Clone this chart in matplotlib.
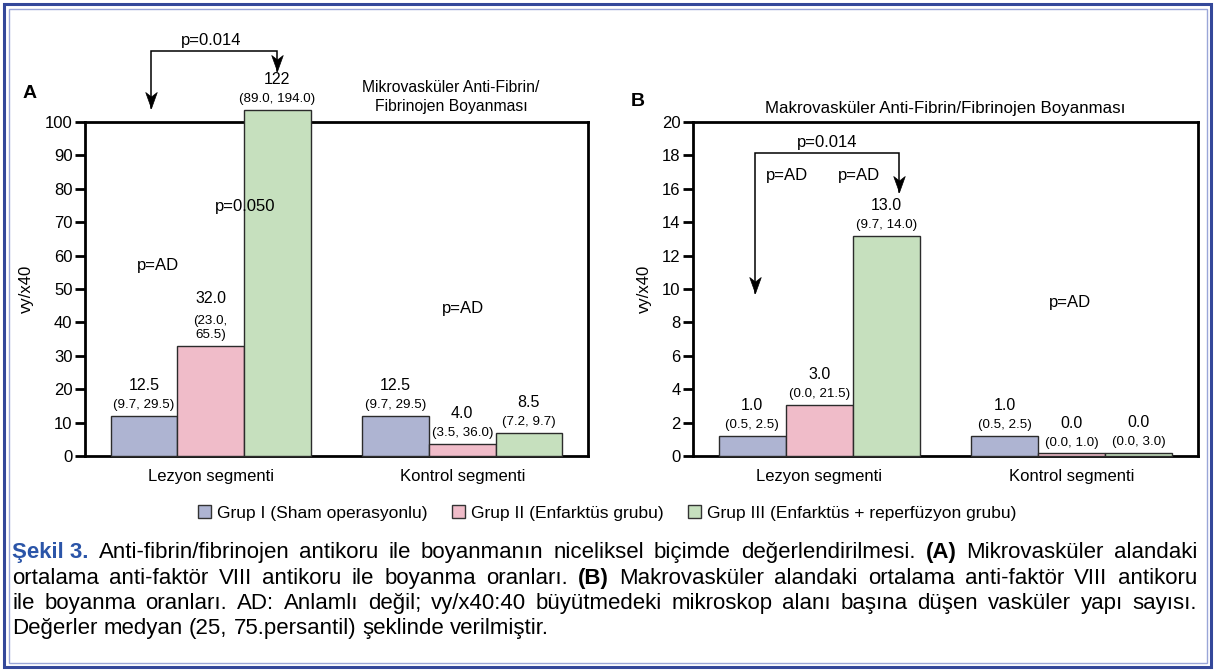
import numpy as np
import matplotlib.pyplot as plt
from matplotlib.patches import Rectangle, Patch
from matplotlib.path import Path

plt.rcParams['font.family'] = ['Liberation Sans', 'DejaVu Sans']

# ── Data ───────────────────────────────────────────────────────────────────
segments = ["Lezyon segmenti", "Kontrol segmenti"]
group_names = ["Grup I (Sham operasyonlu)", "Grup II (Enfarktüs grubu)",
               "Grup III (Enfarktüs + reperfüzyon grubu)"]
colors = ['#aeb4d2', '#f0bcc9', '#c6e0be']

# bar heights as drawn (vy/x40); group III lesion bar in A is cut near the top
mikro_g1 = [12.0, 12.0]
mikro_g2 = [33.0, 3.6]
mikro_g3 = [103.5, 6.9]
makro_g1 = [1.2, 1.2]
makro_g2 = [3.05, 0.15]
makro_g3 = [13.2, 0.2]

# median labels and (25, 75 percentile) labels
mikro_med = [["12.5", "12.5"], ["32.0", "4.0"], ["122", "8.5"]]
mikro_iqr = [["(9.7, 29.5)", "(9.7, 29.5)"], ["(23.0,\n65.5)", "(3.5, 36.0)"],
             ["(89.0, 194.0)", "(7.2, 9.7)"]]
makro_med = [["1.0", "1.0"], ["3.0", "0.0"], ["13.0", "0.0"]]
makro_iqr = [["(0.5, 2.5)", "(0.5, 2.5)"], ["(0.0, 21.5)", "(0.0, 1.0)"],
             ["(9.7, 14.0)", "(0.0, 3.0)"]]

caption = [
    [("Şekil 3.", 'h'), ("Anti-fibrin/fibrinojen", 'n'), ("antikoru", 'n'), ("ile", 'n'),
     ("boyanmanın", 'n'), ("niceliksel", 'n'), ("biçimde", 'n'), ("değerlendirilmesi.", 'n'),
     ("(A)", 'b'), ("Mikrovasküler", 'n'), ("alandaki", 'n')],
    [("ortalama", 'n'), ("anti-faktör", 'n'), ("VIII", 'n'), ("antikoru", 'n'), ("ile", 'n'),
     ("boyanma", 'n'), ("oranları.", 'n'), ("(B)", 'b'), ("Makrovasküler", 'n'), ("alandaki", 'n'),
     ("ortalama", 'n'), ("anti-faktör", 'n'), ("VIII", 'n'), ("antikoru", 'n')],
    [("ile", 'n'), ("boyanma", 'n'), ("oranları.", 'n'), ("AD:", 'n'), ("Anlamlı", 'n'),
     ("değil;", 'n'), ("vy/x40:40", 'n'), ("büyütmedeki", 'n'), ("mikroskop", 'n'), ("alanı", 'n'),
     ("başına", 'n'), ("düşen", 'n'), ("vasküler", 'n'), ("yapı", 'n'), ("sayısı.", 'n')],
    [("Değerler", 'n'), ("medyan", 'n'), ("(25,", 'n'), ("75.persantil)", 'n'), ("şeklinde", 'n'),
     ("verilmiştir.", 'n')],
]

# ── Figure ─────────────────────────────────────────────────────────────────
W, H = 1215, 671
fig = plt.figure(figsize=(W / 100, H / 100), dpi=100)
fig.patch.set_facecolor('white')

axA = fig.add_axes([85 / W, 1 - 456 / H, 503 / W, 334 / H])
axB = fig.add_axes([693 / W, 1 - 456 / H, 505 / W, 334 / H])

x = np.arange(len(segments))
bw = 0.265
offs = [-bw, 0, bw]


def draw_bars(ax, series, meds, iqrs):
    for g, vals in enumerate(series):
        bars = ax.bar(x + offs[g], vals, bw, color=colors[g], edgecolor='#2b2b2b',
                      lw=1.0, zorder=3, clip_on=False)
        for b, med, iqr in zip(bars, meds[g], iqrs[g]):
            cx = b.get_x() + b.get_width() / 2
            top = b.get_height()
            n = iqr.count('\n') + 1
            ax.annotate(iqr, (cx, top), xytext=(0, 3.5), textcoords='offset points',
                        ha='center', va='bottom', fontsize=9.6, linespacing=1.2,
                        annotation_clip=False)
            ax.annotate(med, (cx, top), xytext=(0, 4 + 12.5 * n), textcoords='offset points',
                        ha='center', va='bottom', fontsize=11.5, annotation_clip=False)


draw_bars(axA, [mikro_g1, mikro_g2, mikro_g3], mikro_med, mikro_iqr)
draw_bars(axB, [makro_g1, makro_g2, makro_g3], makro_med, makro_iqr)

for ax, top, step, lx in [(axA, 100, 10, -0.101), (axB, 20, 2, -0.081)]:
    ax.set_xlim(-0.5, 1.5)
    ax.set_ylim(0, top)
    ax.set_yticks(np.arange(0, top + 1, step))
    ax.set_xticks(x)
    ax.set_xticklabels(segments)
    for s in ax.spines.values():
        s.set_linewidth(2.0)
    ax.tick_params(axis='y', length=7, width=2.0, labelsize=12, pad=2)
    ax.tick_params(axis='x', length=0, labelsize=12, pad=9)
    ax.set_ylabel("vy/x40", fontsize=12)
    ax.yaxis.set_label_coords(lx, 0.5)

# notched arrow head, tip at the marker position
head = Path([(0, 0), (-0.36, 1.0), (0, 0.72), (0.36, 1.0), (0, 0)],
            [Path.MOVETO, Path.LINETO, Path.LINETO, Path.LINETO, Path.CLOSEPOLY])


def bracket(ax, x0, x1, y, tip0, tip1):
    ax.plot([x0, x0, x1, x1], [tip0, y, y, tip1], color='k', lw=1.1, clip_on=False,
            solid_joinstyle='miter')
    ax.plot([x0, x1], [tip0, tip1], ls='none', marker=head, markersize=23,
            color='k', mec='k', mew=0.5, clip_on=False)


# Panel A annotations
bracket(axA, -0.238, 0.263, 121.3, 104.2, 115.2)
axA.text(0.0, 124.5, "p=0.014", ha='center', va='center', fontsize=12)
axA.text(0.136, 74.6, "p=0.050", ha='center', va='center', fontsize=12)
axA.text(-0.21, 56.9, "p=AD", ha='center', va='center', fontsize=12)
axA.text(1.003, 44.3, "p=AD", ha='center', va='center', fontsize=12)
fig.text(451 / W, 1 - 97 / H, "Mikrovasküler Anti-Fibrin/\nFibrinojen Boyanması",
         ha='center', va='center', fontsize=11.3, linespacing=1.3)
fig.text(30 / W, 1 - 94 / H, "A", ha='center', va='center', fontsize=14, fontweight='bold')

# Panel B annotations
bracket(axB, -0.254, 0.316, 18.14, 9.76, 15.8)
axB.text(0.031, 18.8, "p=0.014", ha='center', va='center', fontsize=12)
axB.text(-0.128, 16.8, "p=AD", ha='center', va='center', fontsize=12)
axB.text(0.157, 16.8, "p=AD", ha='center', va='center', fontsize=12)
axB.text(0.993, 9.22, "p=AD", ha='center', va='center', fontsize=12)
axB.set_title("Makrovasküler Anti-Fibrin/Fibrinojen Boyanması", fontsize=12.2, pad=6.5)
fig.text(638 / W, 1 - 101 / H, "B", ha='center', va='center', fontsize=14, fontweight='bold')

# Legend
handles = [Patch(facecolor=c, edgecolor='#333333', lw=1.0, label=n)
           for c, n in zip(colors, group_names)]
fig.legend(handles=handles, loc='center', bbox_to_anchor=(0.5, 1 - 513 / H), ncol=3,
           frameon=False, fontsize=12.5, handlelength=0.75, handleheight=0.7,
           handletextpad=0.35, columnspacing=1.4, borderpad=0, borderaxespad=0)

# Caption, justified word by word
styles = {'n': dict(color='black'), 'b': dict(color='black', fontweight='bold'),
          'h': dict(color='#2b55a8', fontweight='bold')}
cap_size = 16
renderer = fig.canvas.get_renderer()
x_left, x_right = 12, 1197
baselines = [558, 584, 609, 634]
for i, (line, yb) in enumerate(zip(caption, baselines)):
    texts = [fig.text(0, 1 - yb / H, w, fontsize=cap_size, va='baseline', ha='left', **styles[s])
             for w, s in line]
    widths = [t.get_window_extent(renderer).width for t in texts]
    space = cap_size * 100 / 72 * 0.278
    if i < len(caption) - 1:
        gap = (x_right - x_left - sum(widths)) / (len(texts) - 1)
    else:
        gap = space
    xp = x_left
    for t, wd in zip(texts, widths):
        t.set_x(xp / W)
        xp += wd + gap

# Frame around the whole figure
fig.patches.append(Rectangle((4 / W, 4 / H), 1 - 8 / W, 1 - 8 / H, transform=fig.transFigure,
                             fill=False, ec='#34489a', lw=2.2))
fig.patches.append(Rectangle((8.5 / W, 8.5 / H), 1 - 17 / W, 1 - 17 / H, transform=fig.transFigure,
                             fill=False, ec='#9aa6d8', lw=1.0))

fig.savefig("out.png", dpi=100)
